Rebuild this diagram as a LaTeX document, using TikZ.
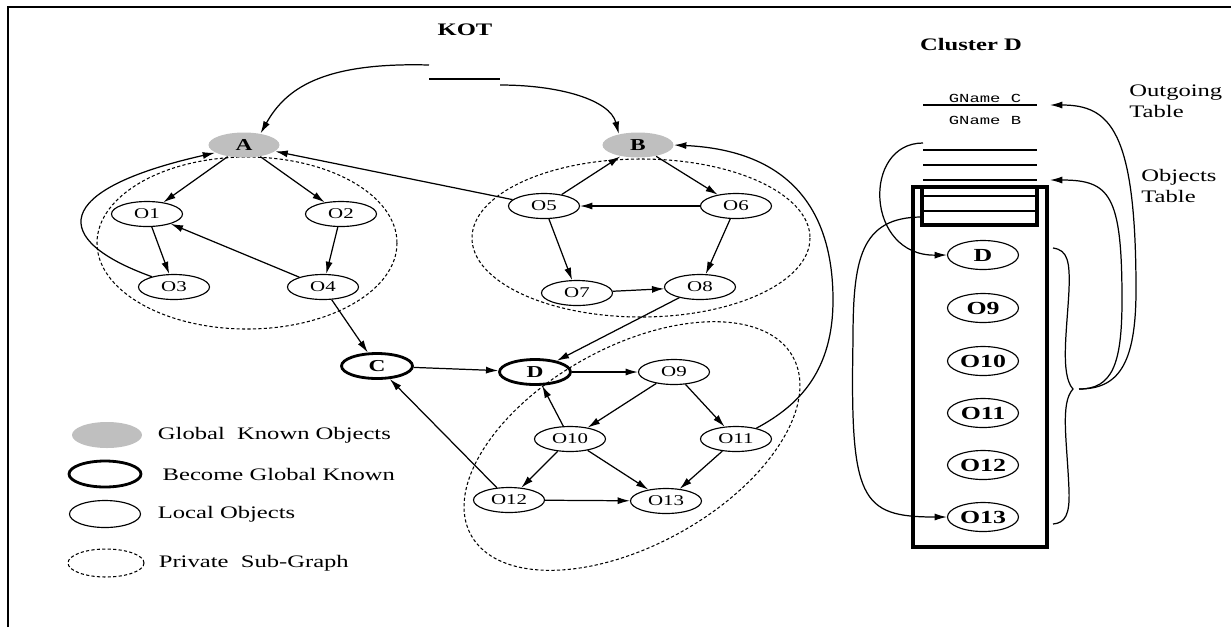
\documentclass[tikz,border=0pt]{standalone}
\usepackage{fontspec}
\setmainfont{Liberation Serif}[FakeStretch=1.4]
\setmonofont{Liberation Mono}[FakeStretch=1.4]
\usetikzlibrary{shapes.geometric,arrows.meta,positioning}

\tikzset{
  obj/.style={ellipse,draw,line width=0.65pt,minimum width=1.42cm,minimum height=0.5cm,inner sep=0pt,font=\fontsize{8.5}{9}\selectfont},
  globobj/.style={obj,draw=none,fill=gray!50,font=\fontsize{9.5}{10}\selectfont\bfseries},
  newglob/.style={obj,line width=1.6pt,font=\fontsize{9.5}{10}\selectfont\bfseries},
  clobj/.style={obj,minimum height=0.58cm,font=\fontsize{10.5}{11}\selectfont\bfseries},
  priv/.style={line width=0.6pt,dash pattern=on 1.8pt off 1.3pt},
  arr/.style={line width=0.7pt,-{Latex[length=7pt,width=4pt]}},
  lbl/.style={font=\fontsize{10}{12}\selectfont,inner sep=0pt},
  ttl/.style={font=\fontsize{10}{12}\selectfont\bfseries},
  gname/.style={font=\fontsize{7}{8}\selectfont\ttfamily,inner sep=0pt}
}

\begin{document}
\begin{tikzpicture}[x=0.02cm,y=-0.02cm]
\useasboundingbox (0,0) rectangle (1231,627);
% frame
\draw[line width=1.6pt] (8,627) -- (8,7) -- (1231,7);

% titles
\node[ttl] (kot) at (465,30) {KOT};
\node[ttl] (clus) at (971,45) {Cluster D};

% KOT entries
\coordinate (kotl) at (429,65);
\coordinate (kotr) at (500,85);
\draw[line width=1.6pt] (429,79) -- (500,79);

% private sub-graphs
\draw[priv] (247,243) ellipse [x radius=150, y radius=86];
\draw[priv] (641,238) ellipse [x radius=169, y radius=79];
\draw[priv, rotate around={29:(632,446)}] (632,446) ellipse [x radius=184, y radius=99];

% objects
\node[globobj] (A) at (244,145) {A};
\node[globobj] (B) at (638,145) {B};
\node[obj] (O1) at (147,214) {O1};
\node[obj] (O2) at (341,214) {O2};
\node[obj] (O3) at (174,287) {O3};
\node[obj] (O4) at (323,287) {O4};
\node[obj] (O5) at (544,206) {O5};
\node[obj] (O6) at (736,206) {O6};
\node[obj] (O7) at (577,293) {O7};
\node[obj] (O8) at (700,287) {O8};
\node[newglob] (C) at (377,366) {C};
\node[newglob] (D) at (535,372) {D};
\node[obj] (O9) at (674,372) {O9};
\node[obj] (O10) at (570,439) {O10};
\node[obj] (O11) at (736,439) {O11};
\node[obj] (O12) at (509,500) {O12};
\node[obj] (O13) at (666,501) {O13};

% references
\foreach \s/\t in {A/O1,A/O2,O1/O3,O2/O4,O4/O1,O5/A,O5/B,B/O6,O6/O5,O5/O7,O6/O8,O7/O8,
                   O8/D,O4/C,C/D,O12/C,D/O9,O9/O10,O9/O11,O10/D,O10/O12,O10/O13,O11/O13,O12/O13}
  \draw[arr] (\s) -- (\t);
\draw[arr] (O3.155) .. controls (50,240) and (50,190) .. (A.195);
\draw[arr] (O11.28) .. controls (800,405) and (833,370) .. (833,300) .. controls (833,200) and (780,150) .. (B.east);
\draw[arr] (kotl) .. controls (320,62) and (285,90) .. (A.35);
\draw[arr] (kotr) .. controls (560,85) and (610,100) .. (B.150);

% legend
\node[globobj,minimum width=1.4cm,minimum height=0.52cm] (lg1) at (107,435) {};
\node[newglob,minimum width=1.44cm,minimum height=0.52cm] (lg2) at (105,474) {};
\node[obj,minimum height=0.54cm] (lg3) at (105,514) {};
\node[ellipse,draw,priv,minimum width=1.52cm,minimum height=0.56cm] (lg4) at (106,563) {};
\node[lbl,right=0.3cm of lg1] (lt1) {Global\ \ Known Objects};
\node[lbl,right=0.4cm of lg2] (lt2) {Become Global Known};
\node[lbl,right=0.33cm of lg3] (lt3) {Local Objects};
\node[lbl,right=0.28cm of lg4] (lt4) {Private\ \ Sub-Graph};

% cluster D tables
\node[gname] (gc) at (985,98) {GName C};
\node[gname] (gb) at (985,120) {GName B};
\draw[line width=0.7pt] (923,105) -- (1037,105);
\foreach \y in {150,165,180}
  \draw[line width=0.7pt] (923,\y) -- (1037,\y);
\draw[line width=1.9pt] (913,187) rectangle (1047,547);
\draw[line width=1.9pt] (922,187) rectangle (1037,225);
\foreach \y in {196,211}
  \draw[line width=0.7pt] (922,\y) -- (1037,\y);
\foreach \n/\y in {D/255,O9/308,O10/361,O11/413,O12/465,O13/517}
  \node[clobj] (c\n) at (983,\y) {\n};

\coordinate (objtop) at (923,143);
\coordinate (objlow) at (922,217);
\coordinate (brtop) at (1053,248);
\coordinate (brtip) at (1073,389);
\coordinate (brbot) at (1053,524);
\coordinate (brarr) at (1079,389);
\coordinate (outtab) at (1050,105);
\coordinate (objtab) at (1050,180);

\draw[arr] (objtop) .. controls (862,143) and (865,256) .. (cD.west);
\draw[arr] (objlow) .. controls (860,217) and (853,260) .. (853,340) .. controls (850,500) and (860,517) .. (cO13.west);
\draw[line width=0.7pt] (brtop) .. controls (1068,250) and (1070,262) .. (1069,290)
  .. controls (1067,330) and (1060,375) .. (brtip)
  .. controls (1060,403) and (1067,440) .. (1069,490)
  .. controls (1070,515) and (1065,523) .. (brbot);
\draw[arr] (brarr) .. controls (1118,389) and (1136,365) .. (1136,290) .. controls (1136,130) and (1110,105) .. (outtab);
\draw[arr] (brarr) .. controls (1112,389) and (1122,365) .. (1122,300) .. controls (1122,195) and (1110,180) .. (objtab);
\node[lbl,align=left,anchor=west] (outlbl) at (1129,101) {Outgoing\\Table};
\node[lbl,align=left,anchor=west] (objlbl) at (1141,186) {Objects\\Table};
\end{tikzpicture}
\end{document}
